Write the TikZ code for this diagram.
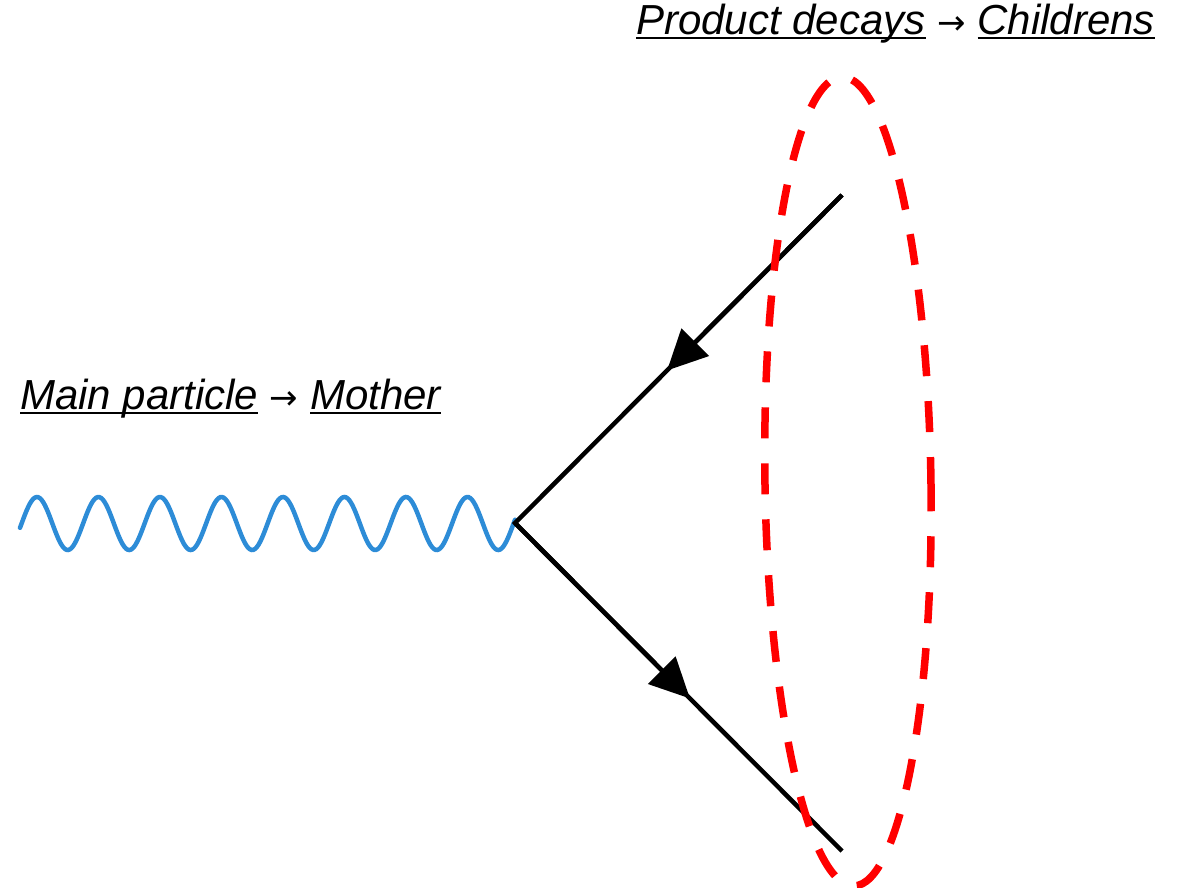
\documentclass[tikz,border=0pt]{standalone}
\usepackage{fontspec}
\setmainfont{Liberation Sans}
\newfontfamily\arrowfont{DejaVu Sans}
\usepackage{tikz}
\usetikzlibrary{arrows.meta, calc}
\definecolor{photonblue}{RGB}{45,140,215}
\definecolor{ringred}{RGB}{255,0,0}
\newsavebox{\labbox}
\newcommand{\labtext}[1]{\sbox{\labbox}{\itshape #1}\rlap{\rule[-4.5pt]{\wd\labbox}{1.6pt}}\usebox{\labbox}}
\newcommand{\toarrow}{{\arrowfont\fontsize{34}{40}\selectfont →}}

\begin{document}
\begin{tikzpicture}[x=1pt, y=-1pt,
    photon/.style={photonblue, line width=4.5pt, line cap=round},
    fermion/.style={black, line width=4.5pt},
    fermarrow/.style={-{Triangle[length=40pt, width=38pt]}, black, line width=4.5pt},
    ring/.style={ringred, line width=7.5pt, dash pattern=on 31pt off 25pt},
    caption/.style={inner sep=0pt, anchor=base west, font=\fontsize{42}{48}\selectfont}]
    \useasboundingbox (0,0) rectangle (1179,887);
    % vertex and ends
    \coordinate (v) at (515,523);
    \coordinate (q1) at (842,195);
    \coordinate (q2) at (842,851);
    \coordinate (w0) at (20,522);
    % mother
    \draw[photon] plot[domain=20:515, samples=300] (\x, {523.5 - 26.5*sin(5.85366*(\x-21.6))});
    % children
    \draw[fermion] (q1) -- (v) -- (q2);
    \draw[fermarrow] (q1) -- ($(q1)!0.535!(v)$);
    \draw[fermarrow] (v) -- ($(v)!0.535!(q2)$);
    % decay products
    \coordinate (c) at (848,481.5);
    \draw[ring, rotate around={0.85:(c)}] (c) ellipse [x radius=83, y radius=404.5];
    % labels
    \node[caption] (mother) at (20,409) {\labtext{Main particle} \toarrow{} \labtext{Mother}};
    \node[caption] (children) at (636,34) {\labtext{Product decays} \toarrow{} \labtext{Childrens}};
\end{tikzpicture}
\end{document}
